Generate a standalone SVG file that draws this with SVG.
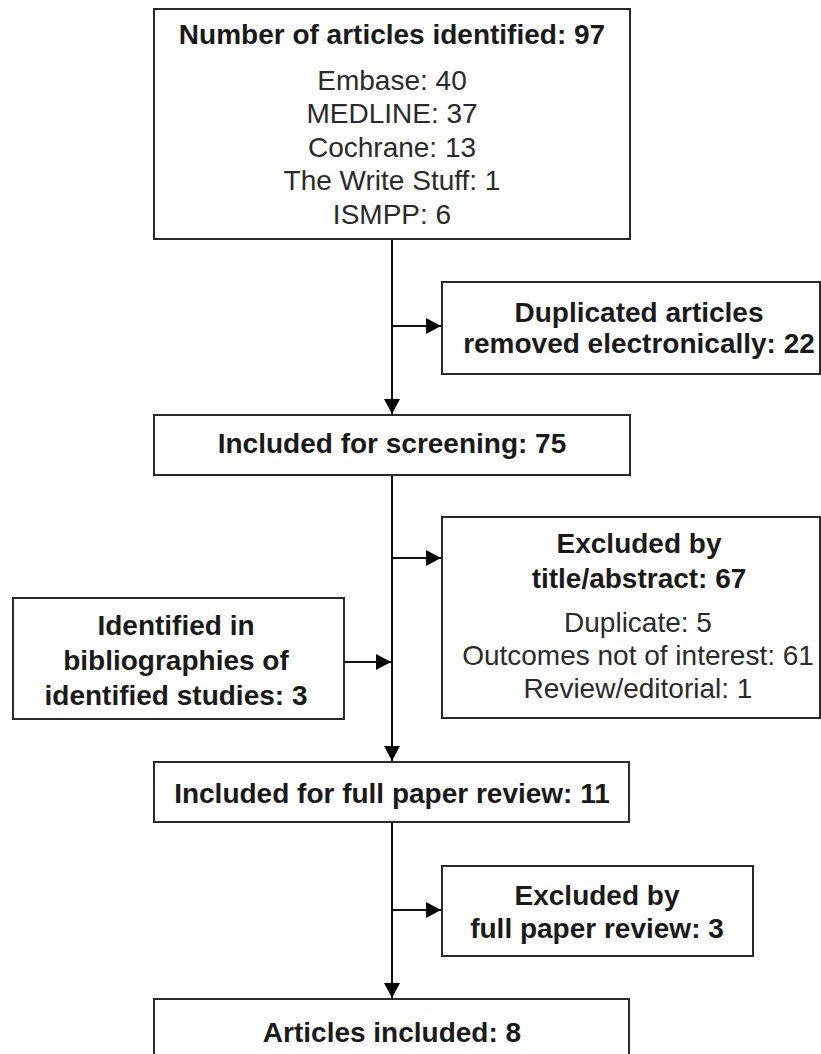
<svg xmlns="http://www.w3.org/2000/svg" width="821" height="1054" viewBox="0 0 821 1054">
<style>
.box{fill:#fff;stroke:#2a2a2a;stroke-width:2}
.b{font-family:"Liberation Sans",Arial,sans-serif;font-size:28px;font-weight:bold;fill:#1a1a1a;text-anchor:middle}
.r{font-family:"Liberation Sans",Arial,sans-serif;font-size:28px;fill:#2a2a2a;text-anchor:middle}
.ln{fill:none;stroke:#111;stroke-width:2}
</style>
<defs>
<marker id="ah" markerUnits="userSpaceOnUse" viewBox="0 0 15 16" markerWidth="15" markerHeight="16" refX="15" refY="8" orient="auto">
<path d="M0,0 L15,8 L0,16 z" fill="#000"/>
</marker>
</defs>
<rect width="821" height="1054" fill="#fff"/>
<g id="connectors">
<line class="ln" x1="392" y1="240" x2="392" y2="414" marker-end="url(#ah)"/>
<line class="ln" x1="392" y1="326" x2="441" y2="326" marker-end="url(#ah)"/>
<line class="ln" x1="392" y1="476" x2="392" y2="761" marker-end="url(#ah)"/>
<line class="ln" x1="392" y1="558" x2="441" y2="558" marker-end="url(#ah)"/>
<line class="ln" x1="345" y1="662" x2="391" y2="662" marker-end="url(#ah)"/>
<line class="ln" x1="392" y1="823" x2="392" y2="998" marker-end="url(#ah)"/>
<line class="ln" x1="392" y1="910" x2="441" y2="910" marker-end="url(#ah)"/>
</g>
<g id="identified">
<rect class="box" x="154" y="9" width="476" height="230"/>
<text class="b" x="392" y="44">Number of articles identified: 97</text>
<text class="r" x="392" y="90">Embase: 40</text>
<text class="r" x="392" y="123">MEDLINE: 37</text>
<text class="r" x="392" y="157">Cochrane: 13</text>
<text class="r" x="392" y="190">The Write Stuff: 1</text>
<text class="r" x="392" y="224">ISMPP: 6</text>
</g>
<g id="duplicates">
<rect class="box" x="442" y="282" width="378" height="92"/>
<text class="b" x="639" y="322">Duplicated articles</text>
<text class="b" x="639" y="353">removed electronically: 22</text>
</g>
<g id="screening">
<rect class="box" x="154" y="415" width="476" height="60"/>
<text class="b" x="392" y="453">Included for screening: 75</text>
</g>
<g id="excluded-title">
<rect class="box" x="442" y="517" width="378" height="201"/>
<text class="b" x="639" y="553">Excluded by</text>
<text class="b" x="639" y="588">title/abstract: 67</text>
<text class="r" x="638" y="632">Duplicate: 5</text>
<text class="r" x="638" y="665">Outcomes not of interest: 61</text>
<text class="r" x="638" y="698">Review/editorial: 1</text>
</g>
<g id="bibliographies">
<rect class="box" x="13" y="598" width="331" height="121"/>
<text class="b" x="176" y="635">Identified in</text>
<text class="b" x="176" y="670">bibliographies of</text>
<text class="b" x="176" y="705">identified studies: 3</text>
</g>
<g id="fullpaper">
<rect class="box" x="154" y="762" width="475" height="60"/>
<text class="b" x="392" y="803">Included for full paper review: 11</text>
</g>
<g id="excluded-full">
<rect class="box" x="442" y="866" width="311" height="90"/>
<text class="b" x="597" y="905">Excluded by</text>
<text class="b" x="597" y="938">full paper review: 3</text>
</g>
<g id="included">
<rect class="box" x="154" y="999" width="475" height="70"/>
<text class="b" x="392" y="1042">Articles included: 8</text>
</g>
</svg>
